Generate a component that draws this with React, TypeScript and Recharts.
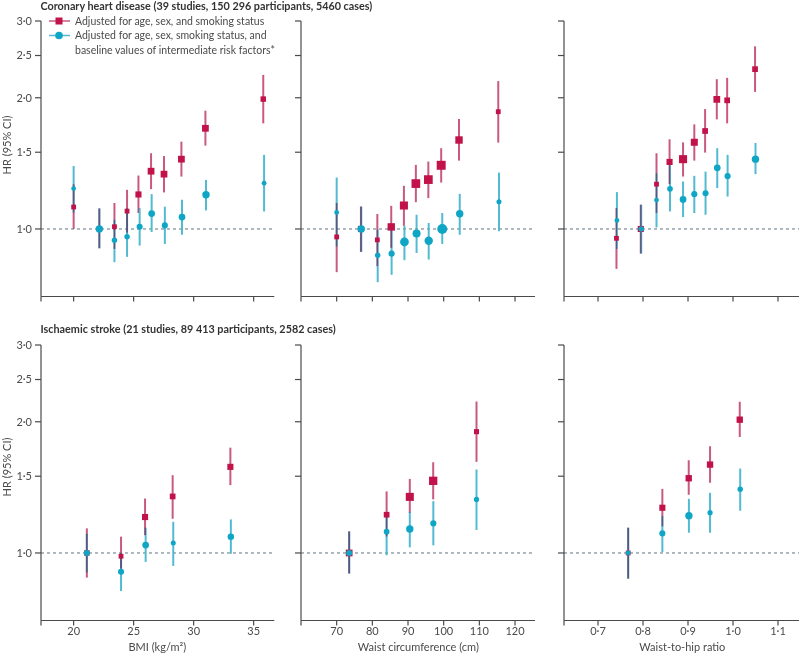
import React from 'react';
import { ScatterChart, Scatter, XAxis, YAxis, ErrorBar, ReferenceLine } from 'recharts';

// [x, HR, lower CI, upper CI, relative weight]
type Pt = [number, number, number, number, number];

const chdBmiAge: Pt[] = [
  [20.0, 1.123, 1.0, 1.267, 1], [22.14, 1.0, 0.903, 1.115, 1], [23.4, 1.012, 0.9, 1.147, 1],
  [24.45, 1.099, 0.98, 1.23, 1], [25.4, 1.2, 1.088, 1.326, 2], [26.45, 1.357, 1.234, 1.492, 2.5],
  [27.53, 1.336, 1.213, 1.47, 2.5], [28.98, 1.446, 1.319, 1.586, 2.5], [30.98, 1.702, 1.553, 1.868, 2.5],
  [35.8, 1.986, 1.747, 2.257, 1.5],
];
const chdBmiFull: Pt[] = [
  [20.0, 1.238, 1.09, 1.395, 1], [22.14, 1.0, 0.903, 1.115, 3], [23.4, 0.942, 0.839, 1.05, 1.5],
  [24.45, 0.96, 0.863, 1.115, 1.5], [25.5, 1.012, 0.916, 1.117, 2], [26.5, 1.085, 0.984, 1.202, 2.5],
  [27.6, 1.019, 0.924, 1.125, 2], [29.03, 1.065, 0.97, 1.167, 2.5], [31.03, 1.198, 1.103, 1.296, 3],
  [35.87, 1.274, 1.097, 1.479, 1],
];
const chdWaistAge: Pt[] = [
  [70.0, 0.959, 0.796, 1.147, 1], [76.8, 1.0, 0.886, 1.126, 2], [81.4, 0.944, 0.821, 1.082, 1],
  [85.3, 1.011, 0.905, 1.13, 3], [88.85, 1.132, 1.017, 1.256, 3.5], [92.2, 1.271, 1.152, 1.403, 4],
  [95.7, 1.298, 1.177, 1.428, 4], [99.3, 1.4, 1.278, 1.532, 4.2], [104.3, 1.6, 1.435, 1.788, 3],
  [115.3, 1.858, 1.578, 2.184, 1],
];
const chdWaistFull: Pt[] = [
  [70.0, 1.091, 0.912, 1.312, 1], [76.9, 1.0, 0.886, 1.126, 3], [81.5, 0.87, 0.755, 0.996, 1.5],
  [85.4, 0.878, 0.785, 1.014, 2], [89.0, 0.934, 0.848, 1.017, 4], [92.4, 0.976, 0.881, 1.078, 3.5],
  [95.8, 0.94, 0.851, 1.032, 3.8], [99.6, 1.0, 0.924, 1.088, 5], [104.5, 1.084, 0.97, 1.204, 3],
  [115.5, 1.155, 0.988, 1.347, 1.2],
];
const chdWhrAge: Pt[] = [
  [0.741, 0.952, 0.81, 1.117, 1], [0.795, 1.0, 0.878, 1.137, 2], [0.83, 1.267, 1.088, 1.492, 1],
  [0.859, 1.425, 1.267, 1.606, 2], [0.889, 1.446, 1.319, 1.58, 3.5], [0.914, 1.581, 1.435, 1.738, 2.7],
  [0.938, 1.678, 1.497, 1.884, 1.7], [0.964, 1.983, 1.784, 2.206, 2.5], [0.987, 1.973, 1.747, 2.222, 1.7],
  [1.049, 2.326, 2.063, 2.625, 1.7],
];
const chdWhrFull: Pt[] = [
  [0.742, 1.046, 0.9, 1.215, 1], [0.796, 1.0, 0.878, 1.137, 1.5], [0.83, 1.165, 1.008, 1.343, 1],
  [0.86, 1.236, 1.097, 1.4, 1.7], [0.889, 1.169, 1.065, 1.285, 2.5], [0.914, 1.202, 1.088, 1.324, 2],
  [0.939, 1.208, 1.078, 1.354, 2], [0.965, 1.381, 1.241, 1.532, 2.5], [0.988, 1.322, 1.187, 1.479, 2],
  [1.05, 1.446, 1.336, 1.575, 3],
];
const strokeBmiAge: Pt[] = [
  [21.1, 1.0, 0.878, 1.139, 1.5], [23.95, 0.983, 0.92, 1.09, 1], [25.95, 1.209, 1.098, 1.333, 2],
  [28.25, 1.348, 1.198, 1.508, 1.7], [33.06, 1.576, 1.431, 1.744, 2],
];
const strokeBmiFull: Pt[] = [
  [21.1, 1.0, 0.902, 1.107, 2], [23.95, 0.905, 0.818, 1.0, 2], [26.0, 1.043, 0.954, 1.143, 2.5],
  [28.3, 1.054, 0.934, 1.179, 1.2], [33.1, 1.09, 0.996, 1.194, 2.3],
];
const strokeWaistAge: Pt[] = [
  [73.5, 1.0, 0.897, 1.121, 2.5], [84.0, 1.224, 1.09, 1.384, 1.7], [90.5, 1.345, 1.236, 1.479, 3.5],
  [97.06, 1.464, 1.327, 1.615, 3.7], [109.2, 1.898, 1.618, 2.226, 1.2],
];
const strokeWaistFull: Pt[] = [
  [73.5, 1.0, 0.897, 1.121, 2], [84.0, 1.119, 0.988, 1.215, 1.7], [90.5, 1.135, 1.03, 1.241, 3],
  [97.1, 1.169, 1.041, 1.315, 2], [109.2, 1.327, 1.129, 1.554, 1.3],
];
const strokeWhrAge: Pt[] = [
  [0.767, 1.0, 0.873, 1.143, 1], [0.843, 1.27, 1.15, 1.403, 2], [0.9016, 1.484, 1.36, 1.632, 2.2],
  [0.949, 1.595, 1.449, 1.757, 2.2], [1.015, 2.022, 1.845, 2.223, 2.2],
];
const strokeWhrFull: Pt[] = [
  [0.767, 1.0, 0.873, 1.143, 1], [0.843, 1.109, 1.005, 1.215, 2], [0.902, 1.217, 1.113, 1.331, 3],
  [0.949, 1.237, 1.113, 1.374, 1.3], [1.016, 1.4, 1.25, 1.562, 1.5],
];

const yTicks = [1, 1.5, 2, 2.5, 3];
const bmiTicks = [20, 25, 30, 35];
const waistTicks = [70, 80, 90, 100, 110, 120];
const whrTicks = [0.7, 0.8, 0.9, 1.0, 1.1];

const titleCHD = 'Coronary heart disease (39 studies, 150\u202f296 participants, 5460 cases)';
const titleStroke = 'Ischaemic stroke (21 studies, 89\u202f413 participants, 2582 cases)';
const legendAge = 'Adjusted for age, sex, and smoking status';
const legendFull1 = 'Adjusted for age, sex, smoking status, and';
const legendFull2 = 'baseline values of intermediate risk factors*';

const RED = '#c1124a';
const RED_LINE = '#c85a82';
const CYAN = '#0fa6c6';
const CYAN_LINE = '#52bad2';
const AXIS = '#4a4a4a';
const TEXT = '#4a4a4a';
const FONT = 'Lato, "Open Sans", sans-serif';

const dot = (v: number, d: number) => v.toFixed(d).replace('.', '\u00b7');

const toData = (pts: Pt[]) =>
  pts.map(([x, hr, lo, hi, wt]) => ({ x, hr, err: [hr - lo, hi - hr], wt }));

const sideOf = (wt: number) => 3.5 + wt * 1.3;

const SquareShape = (props: any) => {
  const { cx, cy, payload } = props;
  if (cx == null || cy == null) return null;
  const s = sideOf(payload.wt);
  return <rect x={cx - s / 2} y={cy - s / 2} width={s} height={s} fill={RED} />;
};
const CircleShape = (props: any) => {
  const { cx, cy, payload } = props;
  if (cx == null || cy == null) return null;
  const s = sideOf(payload.wt);
  return <circle cx={cx} cy={cy} r={s / 2} fill={CYAN} />;
};

type PanelProps = {
  plotLeft: number;
  plotTop: number;
  plotW: number;
  plotH: number;
  domain: [number, number];
  ticks: number[];
  fmt: (v: number) => string;
  showY: boolean;
  showX: boolean;
  red: Pt[];
  cyan: Pt[];
};

function Panel({ plotLeft, plotTop, plotW, plotH, domain, ticks, fmt, showY, showX, red, cyan }: PanelProps) {
  const ML = 40;
  const MT = 6;
  const MR = 4;
  const MB = 28;
  const tickStyle = { fontSize: 11, fill: TEXT, fontFamily: FONT };
  return (
    <div style={{ position: 'absolute', left: plotLeft - ML, top: plotTop - MT }}>
      <ScatterChart
        width={ML + plotW + MR}
        height={MT + plotH + MB}
        margin={{ top: MT, right: MR, bottom: 0, left: 0 }}
      >
        <XAxis
          type="number"
          dataKey="x"
          domain={domain}
          allowDataOverflow
          ticks={[domain[0], ...ticks]}
          interval={0}
          height={MB}
          tickSize={5}
          tickMargin={2}
          axisLine={{ stroke: AXIS, strokeWidth: 1.2 }}
          tickLine={{ stroke: AXIS, strokeWidth: 1.2 }}
          tick={tickStyle}
          tickFormatter={(v: number) => (showX && v !== domain[0] ? fmt(v) : '')}
        />
        <YAxis
          type="number"
          dataKey="hr"
          scale="log"
          domain={[0.7, 3]}
          allowDataOverflow
          ticks={yTicks}
          interval={0}
          width={ML}
          tickSize={6}
          tickMargin={3}
          axisLine={{ stroke: AXIS, strokeWidth: 1.2 }}
          tickLine={{ stroke: AXIS, strokeWidth: 1.2 }}
          tick={tickStyle}
          tickFormatter={(v: number) => (showY ? dot(v, 1) : '')}
        />
        <ReferenceLine y={1} stroke="#5f7380" strokeDasharray="3 3" strokeWidth={1} ifOverflow="extendDomain" />
        <Scatter data={toData(red)} shape={SquareShape} isAnimationActive={false}>
          <ErrorBar dataKey="err" direction="y" width={0} stroke={RED_LINE} strokeWidth={2} />
        </Scatter>
        <Scatter data={toData(cyan)} shape={CircleShape} isAnimationActive={false}>
          <ErrorBar dataKey="err" direction="y" width={0} stroke={CYAN_LINE} strokeWidth={2} />
        </Scatter>
      </ScatterChart>
    </div>
  );
}

const COLS = [
  { left: 40.7, w: 233.3, domain: [17.28, 36.72] as [number, number], ticks: bmiTicks, fmt: (v: number) => String(v) },
  { left: 301.3, w: 234, domain: [60, 125.6] as [number, number], ticks: waistTicks, fmt: (v: number) => String(v) },
  { left: 564.3, w: 236, domain: [0.6244, 1.1489] as [number, number], ticks: whrTicks, fmt: (v: number) => dot(v, 1) },
];
const ROW_TOP = [20.7, 345.3];
const PLOT_H = 275.5;

export default function App() {
  const top = [chdBmiAge, chdBmiFull, chdWaistAge, chdWaistFull, chdWhrAge, chdWhrFull];
  const bot = [strokeBmiAge, strokeBmiFull, strokeWaistAge, strokeWaistFull, strokeWhrAge, strokeWhrFull];
  const xTitles = ['BMI (kg/m\u00b2)', 'Waist circumference (cm)', 'Waist-to-hip ratio'];
  return (
    <div
      className="hrchart"
      style={{
        position: 'absolute',
        left: 0,
        top: 0,
        width: 799,
        height: 655,
        overflow: 'hidden',
        background: '#ffffff',
        fontFamily: FONT,
      }}
    >
      <style>{`.hrchart .recharts-errorBar line { mix-blend-mode: darken; }`}</style>
      {COLS.map((c, i) => (
        <Panel
          key={'t' + i}
          plotLeft={c.left}
          plotTop={ROW_TOP[0]}
          plotW={c.w}
          plotH={PLOT_H}
          domain={c.domain}
          ticks={c.ticks}
          fmt={c.fmt}
          showY={i === 0}
          showX={false}
          red={top[i * 2]}
          cyan={top[i * 2 + 1]}
        />
      ))}
      {COLS.map((c, i) => (
        <Panel
          key={'b' + i}
          plotLeft={c.left}
          plotTop={ROW_TOP[1]}
          plotW={c.w}
          plotH={PLOT_H}
          domain={c.domain}
          ticks={c.ticks}
          fmt={c.fmt}
          showY={i === 0}
          showX={true}
          red={bot[i * 2]}
          cyan={bot[i * 2 + 1]}
        />
      ))}
      <svg
        width={799}
        height={655}
        style={{ position: 'absolute', left: 0, top: 0, pointerEvents: 'none' }}
        fontFamily={FONT}
      >
        <text x={40.5} y={10} fontSize={10.8} fontWeight={700} fill="#333">{titleCHD}</text>
        <text x={40.5} y={332.5} fontSize={10.8} fontWeight={700} fill="#333">{titleStroke}</text>
        <line x1={49} y1={21} x2={70} y2={21} stroke={RED_LINE} strokeWidth={1.5} />
        <rect x={55.5} y={17.5} width={7} height={7} fill={RED} />
        <text x={75} y={24.8} fontSize={10.5} fill={TEXT}>{legendAge}</text>
        <line x1={49} y1={35.5} x2={70} y2={35.5} stroke={CYAN_LINE} strokeWidth={1.5} />
        <circle cx={59} cy={35.5} r={3.8} fill={CYAN} />
        <text x={75} y={39.3} fontSize={10.5} fill={TEXT}>{legendFull1}</text>
        <text x={75} y={53.8} fontSize={10.5} fill={TEXT}>{legendFull2}</text>
        {COLS.map((c, i) => (
          <text key={i} x={c.left + c.w / 2} y={651} fontSize={11} fill={TEXT} textAnchor="middle">
            {xTitles[i]}
          </text>
        ))}
        <text x={11} y={145} fontSize={11} fill={TEXT} textAnchor="middle" transform="rotate(-90 11 145)">
          HR (95% CI)
        </text>
        <text x={11} y={467} fontSize={11} fill={TEXT} textAnchor="middle" transform="rotate(-90 11 467)">
          HR (95% CI)
        </text>
      </svg>
    </div>
  );
}
